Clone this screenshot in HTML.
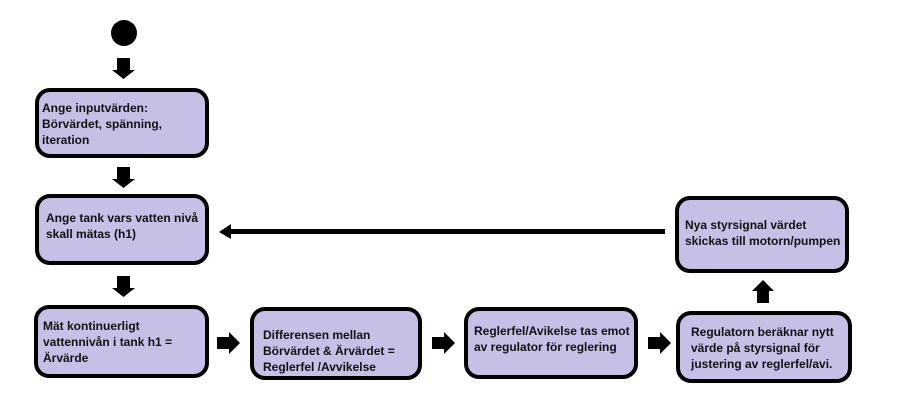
<!DOCTYPE html>
<html><head><meta charset="utf-8"><style>
html,body{margin:0;padding:0;background:#fff;width:897px;height:412px;overflow:hidden}
svg text{font-family:"Liberation Sans",sans-serif;font-weight:bold;font-size:12px;fill:#111}
</style></head><body>
<svg width="897" height="412" viewBox="0 0 897 412">
<g fill="#c8bfe6" stroke="#000" stroke-width="4">
<rect x="37" y="90" width="170" height="66" rx="13"/>
<rect x="37" y="196" width="170" height="67" rx="13"/>
<rect x="36" y="307" width="171" height="69" rx="13"/>
<rect x="252" y="309" width="168" height="69" rx="13"/>
<rect x="466" y="309" width="170" height="68" rx="13"/>
<rect x="678" y="313" width="172" height="68" rx="13"/>
<rect x="677" y="198" width="170" height="73" rx="13"/>
</g>
<circle cx="124" cy="33" r="13" fill="#000"/>
<g fill="#000">
<path d="M117 58h13v12h5l-11.5 9l-11.5-9h5z"/>
<path d="M117 167h13v12h5l-11.5 9l-11.5-9h5z"/>
<path d="M117 276h13v12h5l-11.5 9l-11.5-9h5z"/>
<path d="M217 337h12v-5l11 11l-11 11v-5h-12z"/>
<path d="M432 337h12v-5l11 11l-11 11v-5h-12z"/>
<path d="M648 337h12v-5l11 11l-11 11v-5h-12z"/>
<path d="M757 303v-12h-5l11-11l11 11h-5v12z"/>
<path d="M219 232l12-8v5h434v5h-434v5z"/>
</g>
<text x="42" y="112">Ange inputvärden:</text>
<text x="42" y="128">Börvärdet, spänning,</text>
<text x="42" y="144">iteration</text>
<text x="46" y="222">Ange tank vars vatten nivå</text>
<text x="46" y="238">skall mätas (h1)</text>
<text x="43" y="330">Mät kontinuerligt</text>
<text x="43" y="346">vattennivån i tank h1 =</text>
<text x="43" y="362">Ärvärde</text>
<text x="263" y="339">Differensen mellan</text>
<text x="263" y="355">Börvärdet &amp; Ärvärdet =</text>
<text x="263" y="371">Reglerfel /Avvikelse</text>
<text x="474" y="335">Reglerfel/Avikelse tas emot</text>
<text x="474" y="351">av regulator för reglering</text>
<text x="691" y="336">Regulatorn beräknar nytt</text>
<text x="691" y="352">värde på styrsignal för</text>
<text x="691" y="368">justering av reglerfel/avi.</text>
<text x="685" y="229">Nya styrsignal värdet</text>
<text x="685" y="245">skickas till motorn/pumpen</text>
</svg>
</body></html>
